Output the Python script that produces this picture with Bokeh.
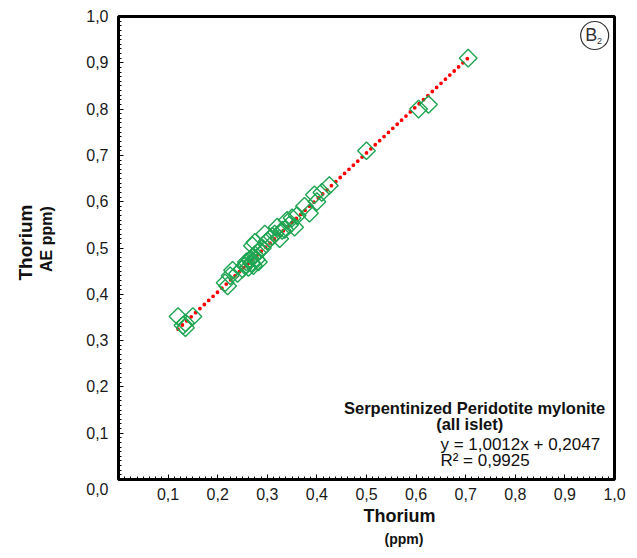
import math
from bokeh.plotting import figure
from bokeh.models import Range1d, Label, FixedTicker, ColumnDataSource, Title
from bokeh.embed import file_html
from bokeh.resources import INLINE

# ---- data ----
th_ppm = [0.120, 0.130, 0.135, 0.150, 0.135,
          0.215, 0.220, 0.225, 0.230, 0.240, 0.250, 0.255, 0.258, 0.262, 0.265,
          0.268, 0.270, 0.272, 0.275, 0.278, 0.280, 0.282, 0.285, 0.270, 0.275,
          0.290, 0.295, 0.300, 0.305, 0.310, 0.315, 0.320, 0.325, 0.330, 0.335,
          0.340, 0.345, 0.350, 0.355, 0.360, 0.375, 0.385, 0.395, 0.400, 0.410,
          0.425, 0.500, 0.605, 0.625, 0.705]
th_ae = [0.352, 0.333, 0.338, 0.352, 0.328,
         0.425, 0.418, 0.440, 0.452, 0.445, 0.455, 0.462, 0.470, 0.458, 0.475,
         0.468, 0.480, 0.462, 0.485, 0.475, 0.490, 0.470, 0.495, 0.505, 0.512,
         0.500, 0.530, 0.515, 0.520, 0.525, 0.530, 0.545, 0.520, 0.538, 0.540,
         0.560, 0.550, 0.565, 0.545, 0.570, 0.590, 0.575, 0.615, 0.600, 0.620,
         0.635, 0.710, 0.800, 0.810, 0.910]
slope = 1.0012
intercept = 0.2047
r2 = 0.9925
tick_values = [0.1, 0.2, 0.3, 0.4, 0.5, 0.6, 0.7, 0.8, 0.9, 1.0]
tick_labels = ["0,1", "0,2", "0,3", "0,4", "0,5", "0,6", "0,7", "0,8", "0,9", "1,0"]

FONT = "Liberation Sans"
NBSP = "\u00a0"

p = figure(width=629, height=558, output_backend="svg", toolbar_location=None,
           x_range=Range1d(0, 1), y_range=Range1d(0, 1),
           min_border_left=118, min_border_right=15, min_border_top=16, min_border_bottom=79)
p.background_fill_color = "white"
p.border_fill_color = "white"
p.grid.visible = False
p.outline_line_color = "black"
p.outline_line_width = 3

for ax, nminor, ticks, labels in ((p.xaxis[0], 8, tick_values, tick_labels),
                                  (p.yaxis[0], 10, [0.0] + tick_values, ["\n0,0"] + tick_labels)):
    ax.ticker = FixedTicker(ticks=ticks,
                            minor_ticks=[i / (10 * nminor) for i in range(1, 10 * nminor)])
    ax.major_label_overrides = {v: s for v, s in zip(ticks, labels)}
    ax.axis_line_color = None
    ax.major_tick_in = 5
    ax.major_tick_out = 0
    ax.minor_tick_in = 3
    ax.minor_tick_out = 0
    ax.major_tick_line_color = "black"
    ax.minor_tick_line_color = "black"
    ax.major_label_text_font = FONT
    ax.major_label_text_font_size = "16px"
    ax.major_label_text_color = "#1a1a1a"
p.xaxis[0].major_label_standoff = 8
p.yaxis[0].major_label_standoff = 10

# y title, second line as the axis label
p.yaxis[0].axis_label = NBSP * 4 + "AE ppm)"
p.yaxis[0].axis_label_text_font = FONT
p.yaxis[0].axis_label_text_font_size = "16px"
p.yaxis[0].axis_label_text_font_style = "bold"
p.yaxis[0].axis_label_text_color = "#111111"
p.yaxis[0].axis_label_standoff = 28

# trend line (dotted red)
x0, x1 = min(th_ppm), max(th_ppm)
p.line([x0, x1], [slope * x0 + intercept, slope * x1 + intercept],
       line_color="#ff0000", line_width=3.8, line_dash="0 6", line_cap="round")

# points: open diamonds
src = ColumnDataSource(dict(x=th_ppm, y=th_ae))
p.scatter("x", "y", source=src, marker="square", size=12.5, angle=math.pi / 4,
          fill_color=None, line_color="#1ea552", line_width=1.4)

def lab(x, y, text, size="16px", style="normal", align="center", angle=0.0,
        color="#111111", baseline="middle"):
    p.add_layout(Label(x=x, y=y, text=text, text_font=FONT, text_font_size=size,
                       text_font_style=style, text_align=align, text_baseline=baseline,
                       angle=angle, text_color=color))

lab(0.718, 0.1555, "Serpentinized Peridotite mylonite", size="16.5px", style="bold")
lab(0.708, 0.119, "(all islet)", size="16.5px", style="bold")
lab(0.649, 0.0756, "y = 1,0012x + 0,2047", size="17px", align="left")
lab(0.649, 0.041, "R² = 0,9925", size="17px", align="left")

# axis titles as side panels
for side, text, size, off, so in (("left", "Thorium", "19px", 199, 0),
                                  ("below", "Thorium", "18px", 245, 2),
                                  ("below", "(ppm)", "14px", 266, 4)):
    t = Title(text=text, align="left", offset=off, text_font=FONT, text_font_size=size,
              text_font_style="bold", text_color="#111111", standoff=so)
    p.add_layout(t, side)

# circled panel tag
p.scatter([0.96], [0.959], marker="circle", size=28, fill_color=None,
          line_color="#333333", line_width=1.2)
lab(0.953, 0.959, "B", size="18px", color="#333333")
lab(0.97, 0.948, "2", size="9px", color="#333333")

open("out.html", "w").write(file_html(p, INLINE))
